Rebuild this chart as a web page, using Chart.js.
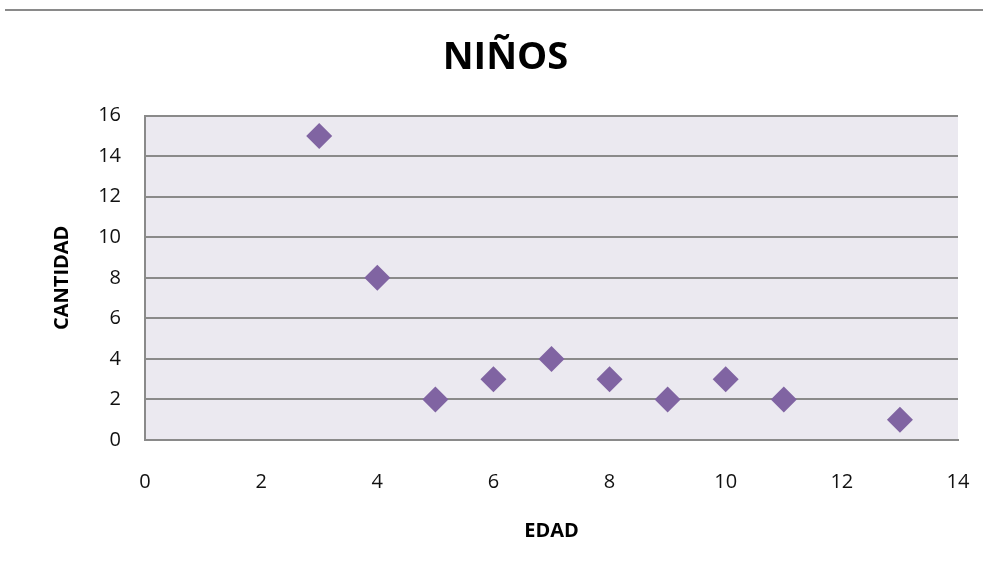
<!DOCTYPE html>
<html>
<head>
<meta charset="utf-8">
<script src="https://cdn.jsdelivr.net/npm/chart.js@4"></script>
<style>
  body { margin: 0; background: #fff; }
  #wrap { position: relative; width: 983px; height: 571px; }
  #topLine { position: absolute; left: 5px; right: 0; top: 9px; height: 2px; background: #8a8a8a; }
</style>
</head>
<body>
<div id="wrap">
  <canvas id="ninosChart"></canvas>
  <div id="topLine"></div>
</div>
<script>
// ==============================
// DATOS
// ==============================
const edades = [3, 4, 5, 6, 7, 8, 9, 10, 11, 13];
const cantidades = [15, 8, 2, 3, 4, 3, 2, 3, 2, 1];
const xTicks = [0, 2, 4, 6, 8, 10, 12, 14];
const yTicks = [0, 2, 4, 6, 8, 10, 12, 14, 16];

const FONT = "'Open Sans', 'Noto Sans', sans-serif";
const GRID = "#8a8a8a";

// fondo del area de trazado
const plotBg = {
  id: "plotBg",
  beforeDraw(chart) {
    const { ctx, chartArea: a } = chart;
    ctx.save();
    ctx.fillStyle = "#ebe9f0";
    ctx.fillRect(a.left, a.top, a.right - a.left, a.bottom - a.top);
    ctx.restore();
  },
};

const ctx = document.getElementById("ninosChart").getContext("2d");
const chart = new Chart(ctx, {
  type: "scatter",
  data: {
    datasets: [
      {
        label: "NIÑOS",
        data: edades.map((e, i) => ({ x: e, y: cantidades[i] })),
        pointStyle: "rectRot",
        pointRadius: 13,
        pointHoverRadius: 13,
        backgroundColor: "#8064a2",
        borderColor: "#8064a2",
        borderWidth: 0,
      },
    ],
  },
  options: {
    responsive: true,
    maintainAspectRatio: false,
    animation: false,
    layout: { padding: { left: 28, right: 0, top: 0, bottom: 0 } },
    plugins: {
      legend: { display: false },
      tooltip: { enabled: false },
      title: {
        display: true,
        text: "NIÑOS",
        color: "#000",
        font: { family: FONT, size: 38, weight: "bold" },
        padding: { top: 35, bottom: 35 },
      },
    },
    scales: {
      x: {
        type: "linear",
        min: xTicks[0],
        max: xTicks[xTicks.length - 1],
        afterBuildTicks: (s) => { s.ticks = xTicks.map((v) => ({ value: v })); },
        afterFit: (s) => { s.height = 131; s.paddingLeft = 0; s.paddingRight = 25; },
        grid: { display: false, drawTicks: false },
        border: { display: true, color: GRID, width: 2 },
        ticks: { color: "#111", padding: 30, font: { family: FONT, size: 20 } },
        title: {
          display: true,
          text: "EDAD",
          color: "#000",
          font: { family: FONT, size: 20, weight: "bold" },
          padding: { top: 0, bottom: 28 },
        },
      },
      y: {
        type: "linear",
        min: yTicks[0],
        max: yTicks[yTicks.length - 1],
        afterBuildTicks: (s) => { s.ticks = yTicks.map((v) => ({ value: v })); },
        afterFit: (s) => { s.width = 117; s.paddingTop = 0; s.paddingBottom = 0; },
        grid: { color: GRID, lineWidth: 2, drawTicks: false },
        border: { display: true, color: GRID, width: 2 },
        ticks: { color: "#111", padding: 24, font: { family: FONT, size: 20 } },
        title: {
          display: true,
          text: "CANTIDAD",
          color: "#000",
          font: { family: FONT, size: 20, weight: "bold" },
          padding: { top: 22, bottom: 0 },
        },
      },
    },
  },
  plugins: [plotBg],
});
</script>
</body>
</html>
